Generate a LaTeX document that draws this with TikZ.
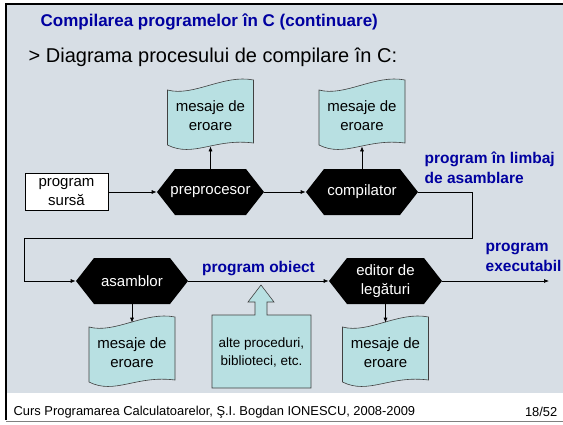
\documentclass[tikz,border=0pt]{standalone}
\usepackage{fontspec}
\setmainfont{Liberation Sans}
\usepackage{tikz}
\usetikzlibrary{arrows.meta,positioning,calc}
\definecolor{slidebg}{RGB}{215,222,229}
\definecolor{tapefill}{RGB}{184,224,226}
\definecolor{titleblue}{RGB}{0,0,160}

\newcommand{\tape}[3]{%
  \begin{scope}[shift={#2}]
    \draw[tapeline] (-43,-26) .. controls (-17,-19) and (13,-42) .. (43,-36)
      -- (43,27) .. controls (4,22) and (-17,42) .. (-43,29) -- cycle;
  \end{scope}
  \node[tapetext] (#1) at #2 {#3};}

\newcommand{\hexnode}[4]{%
  \begin{scope}[shift={#2}]
    \fill (-#3/2,0) -- (-#3/2+18,-23) -- (#3/2-18,-23) -- (#3/2,0)
      -- (#3/2-18,23) -- (-#3/2+18,23) -- cycle;
  \end{scope}
  \node[hexatext, minimum width=#3pt] (#1) at #2 {#4};}

\begin{document}
\begin{tikzpicture}[x=1pt, y=-1pt, font=\fontsize{15}{19}\selectfont,
    >={Latex[length=5pt,width=4pt]}, line width=0.7pt,
    tapeline/.style={draw=black!75, fill=tapefill, line width=0.6pt},
    tapetext/.style={minimum width=86pt, minimum height=60pt, inner sep=0pt, align=center},
    hexatext/.style={text=white, minimum height=46pt, inner sep=0pt, align=center},
    bluelbl/.style={text=titleblue, font=\fontsize{15.5}{20}\selectfont\bfseries, align=left}]
   \useasboundingbox (0,0) rectangle (563,424);
   \fill[slidebg] (6,5) rectangle (563,393);
   \draw[line width=2pt] (6,420) -- (6,4) -- (563,4);
   \draw[gray, line width=1pt] (6,421) -- (563,421);

   \node[anchor=west, text=titleblue, font=\fontsize{17}{20}\selectfont\bfseries] (title) at (37,22) {Compilarea programelor în C (continuare)};
   \node[anchor=west, font=\fontsize{20}{24}\selectfont] (subtitle) at (25,57) {> Diagrama procesului de compilare în C:};

   \tape{err1}{(210.5,116)}{mesaje de\\eroare}
   \tape{err2}{(362,116)}{mesaje de\\eroare}
   \tape{err3}{(132,353)}{mesaje de\\eroare}
   \tape{err4}{(385.5,353)}{mesaje de\\eroare}

   \node[draw, fill=white, minimum width=83pt, minimum height=37pt, inner sep=0pt, align=center, line width=0.6pt] (sursa) at (66.5,192) {program\\sursă};
   \hexnode{prep}{(210.5,192)}{107}{preprocesor}
   \hexnode{comp}{(362,192)}{112}{compilator}
   \hexnode{asm}{(132,281)}{112}{asamblor}
   \hexnode{edit}{(385.5,281)}{113}{editor de\\legături}

   \draw[tapeline] (212,315) -- (255,315) -- (255,302) -- (248,302) -- (261,285) -- (274,302)
     -- (267,302) -- (267,315) -- (311,315) -- (311,388) -- (212,388) -- cycle;
   \node[align=center, font=\fontsize{13.5}{18}\selectfont] (alte) at (261.5,352) {alte proceduri,\\biblioteci, etc.};

   \node[bluelbl, anchor=west] (asmlbl) at (421,168) {program în limbaj\\de asamblare};
   \node[bluelbl, anchor=west] (exelbl) at (482,257) {program\\executabil};

   \coordinate (bendR) at (472,238);
   \coordinate (bendL) at (24,238);
   \coordinate (exe) at (549,281);

   \begin{scope}[->]
    \draw (sursa) -- (prep);
    \draw (prep) -- (comp);
    \draw (prep) -- (err1);
    \draw (comp) -- (err2);
    \draw (comp.east) -| (bendR) -- (bendL) |- (asm.west);
    \draw (asm) -- node[bluelbl, above=2pt] (objlbl) {program obiect} (edit);
    \draw (asm) -- (err3);
    \draw (edit) -- (err4);
    \draw (edit) -- (exe);
   \end{scope}

   \node[anchor=west, font=\fontsize{12.9}{15}\selectfont] (footer) at (10,412) {Curs Programarea Calculatoarelor, Ş.I. Bogdan IONESCU, 2008-2009};
   \node[anchor=east, font=\fontsize{12.9}{15}\selectfont] (page) at (561,412) {18/52};
\end{tikzpicture}
\end{document}
